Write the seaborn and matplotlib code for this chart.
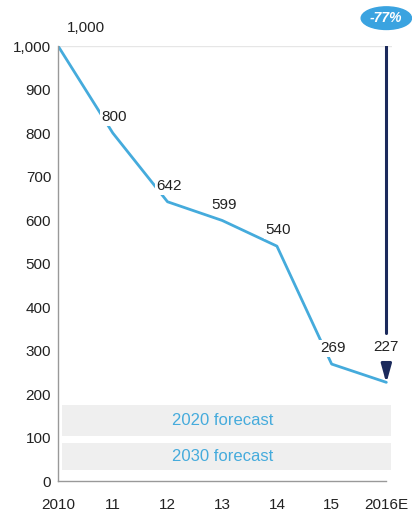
import numpy as np
import pandas as pd
import matplotlib
matplotlib.use("Agg")
import matplotlib.pyplot as plt
from matplotlib.patches import Ellipse
import seaborn as sns

sns.set_theme(style="white")
plt.rcParams['font.family'] = ['Liberation Sans', 'DejaVu Sans']

# data
years = ["2010", "11", "12", "13", "14", "15", "2016E"]
values = [1000, 800, 642, 599, 540, 269, 227]
value_labels = ["1,000", "800", "642", "599", "540", "269", "227"]
forecast_names = ["2020 forecast", "2030 forecast"]
forecast_ranges = [(103, 175), (25, 87)]
change_label = "-77%"

line_blue = "#45abdc"
navy = "#1b2a5c"
band_grey = "#efefef"
text_col = "#222222"

df = pd.DataFrame({"x": np.arange(len(years)), "value": values})

fig = plt.figure(figsize=(4.12, 5.14), dpi=100)
ax = fig.add_axes([0.141, 0.064, 0.81, 0.8465])

# forecast bands
for name, (lo, hi) in zip(forecast_names, forecast_ranges):
    ax.fill_between([0.07, 6.08], lo, hi, color=band_grey, lw=0, zorder=0)
    ax.text(3.0, (lo + hi) / 2, name, color=line_blue, ha="center", va="center",
            fontsize=12, zorder=1)

ax.axhline(1000, color="#e6e6e6", lw=1, zorder=0)

sns.lineplot(data=df, x="x", y="value", color=line_blue, lw=2, ax=ax, zorder=2)

# value labels
for i, (v, lab) in enumerate(zip(values, value_labels)):
    if i == 0:
        ax.text(i + 0.5, v + 42, lab, ha="center", va="center", fontsize=11,
                color=text_col, clip_on=False)
    elif i == len(values) - 1:
        continue
    else:
        ax.text(i + 0.03, v + 36, lab, ha="center", va="center", fontsize=11,
                color=text_col, zorder=3,
                bbox=dict(boxstyle="square,pad=0.12", fc="white", ec="none"))

# arrow showing the total drop
last = len(values) - 1
ax.plot([last, last], [values[0], 340], color=navy, lw=2.2, zorder=4)
ax.annotate("", xy=(last, values[-1] - 2), xytext=(last, 272),
            arrowprops=dict(arrowstyle="-|>,head_width=0.25,head_length=0.9",
                            color=navy, lw=2.2, shrinkA=0, shrinkB=0), zorder=4)
ax.text(last, 308, value_labels[-1], ha="center", va="center", fontsize=11,
        color=text_col, zorder=5)

badge = Ellipse((last, 1064), width=0.92, height=52, color="#3aa3e0",
                clip_on=False, zorder=5)
ax.add_patch(badge)
ax.text(last, 1064, change_label, ha="center", va="center", fontsize=10,
        color="white", fontweight="bold", style="italic", clip_on=False, zorder=6)

ax.set_xlim(0, 6.1)
ax.set_ylim(0, 1000)
ax.set_xticks(df["x"])
ax.set_xticklabels(years)
ax.set_yticks(np.arange(0, 1001, 100))
ax.set_yticklabels([f"{t:,}" for t in range(0, 1001, 100)])
ax.set_xlabel("")
ax.set_ylabel("")

for s in ["top", "right"]:
    ax.spines[s].set_visible(False)
for s in ["left", "bottom"]:
    ax.spines[s].set_color("#999999")
    ax.spines[s].set_linewidth(1)
ax.spines["bottom"].set_bounds(0, 6)
ax.tick_params(axis="both", which="both", length=4, width=0.8, color="#999999",
               direction="inout", labelsize=11, labelcolor=text_col, pad=3)
ax.tick_params(axis="x", direction="in", length=4, pad=12)

fig.savefig("out.png", dpi=100)
